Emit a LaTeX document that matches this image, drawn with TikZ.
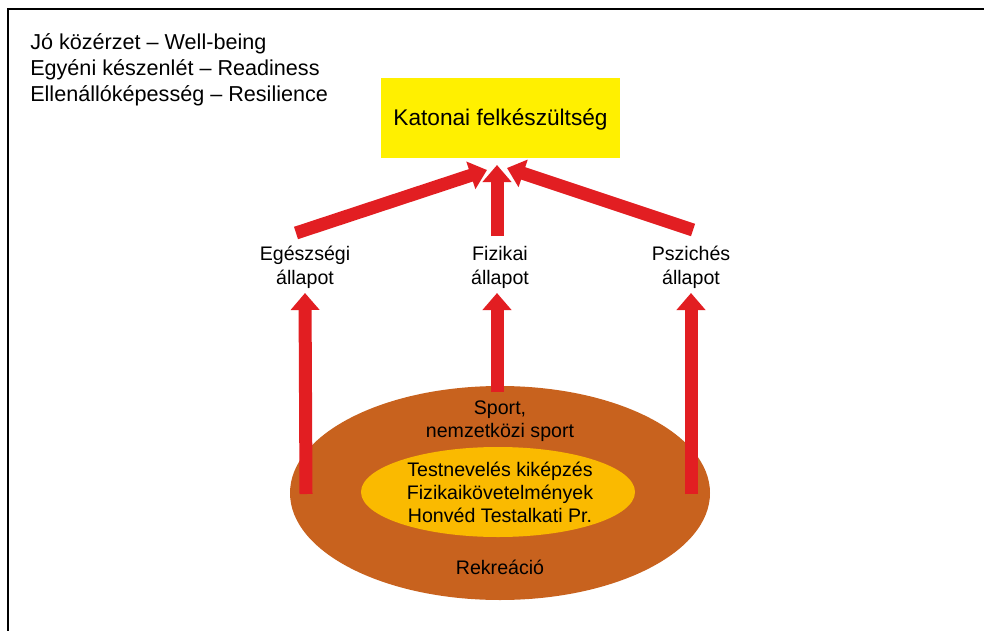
\documentclass[tikz,border=0pt]{standalone}
\usepackage{fontspec}
\setmainfont{Liberation Sans}
\usetikzlibrary{arrows.meta}
\definecolor{redarrow}{RGB}{226,30,34}
\definecolor{outerorange}{RGB}{200,98,30}
\definecolor{innergold}{RGB}{250,186,0}
\definecolor{titleyellow}{RGB}{255,240,0}
\begin{document}
\begin{tikzpicture}[x=0.75pt,y=-0.75pt,
  bigarrow/.style={draw=redarrow, line width=9.75pt, line cap=butt,
    -{Triangle[width=21pt,length=12.75pt]}},
  lbl/.style={align=center, inner sep=0pt, font=\fontsize{14.7}{18}\selectfont},
  ovaltext/.style={align=center, inner sep=0pt, font=\fontsize{14.7}{17.4}\selectfont},
  frameline/.style={line width=1.2pt, draw=black}]
\useasboundingbox (0,0) rectangle (984,631);
\fill[white] (0,0) rectangle (984,631);
\draw[frameline] (8,640) -- (8,9) -- (992,9);

% legend
\node[anchor=west, align=left, inner sep=0pt, font=\fontsize{16.2}{19.5}\selectfont] (legend) at (30,70)
  {\strut Jó közérzet -- Well-being\\\strut Egyéni készenlét -- Readiness\\\strut Ellenállóképesség -- Resilience};

% title
\node[fill=titleyellow, minimum width=179.25pt, minimum height=60pt, inner sep=0pt,
  text height=15pt, text depth=3pt, font=\fontsize{17}{20}\selectfont] (title) at (500.5,118) {Katonai felkészültség};

% ellipses
\fill[outerorange] (500,493) ellipse [x radius=210, y radius=107];
\fill[innergold] (498,492) ellipse [x radius=137, y radius=45];

% coordinates
\coordinate (tipL) at (487,170);
\coordinate (tipC) at (497,165);
\coordinate (tipR) at (507,168);
\coordinate (tailL) at (296,233);
\coordinate (tailC) at (497,236);
\coordinate (tailR) at (693,230);
\coordinate (upL) at (305,293);
\coordinate (upC) at (497,293);
\coordinate (upR) at (691,293);
\coordinate (baseL) at (306,494);
\coordinate (baseC) at (497,392);
\coordinate (baseR) at (691,494);

% arrows
\draw[bigarrow] (tailL) -- (tipL);
\draw[bigarrow] (tailR) -- (tipR);
\draw[bigarrow] (tailC) -- (tipC);
\draw[bigarrow] (baseL) -- (upL);
\draw[bigarrow] (baseC) -- (upC);
\draw[bigarrow] (baseR) -- (upR);

% labels
\node[lbl] (health) at (305,268) {\strut Egészségi\\\strut állapot};
\node[lbl] (physical) at (500,268) {\strut Fizikai\\\strut állapot};
\node[lbl] (psych) at (691,268) {\strut Pszichés\\\strut állapot};

\node[ovaltext] (sport) at (500,421) {\strut Sport,\\\strut nemzetközi sport};
\node[ovaltext] (pe) at (500,495) {\strut Testnevelés kiképzés\\\strut Fizikaikövetelmények\\\strut Honvéd Testalkati Pr.};
\node[ovaltext, anchor=base] (recreation) at (500,574) {Rekreáció};
\end{tikzpicture}
\end{document}
